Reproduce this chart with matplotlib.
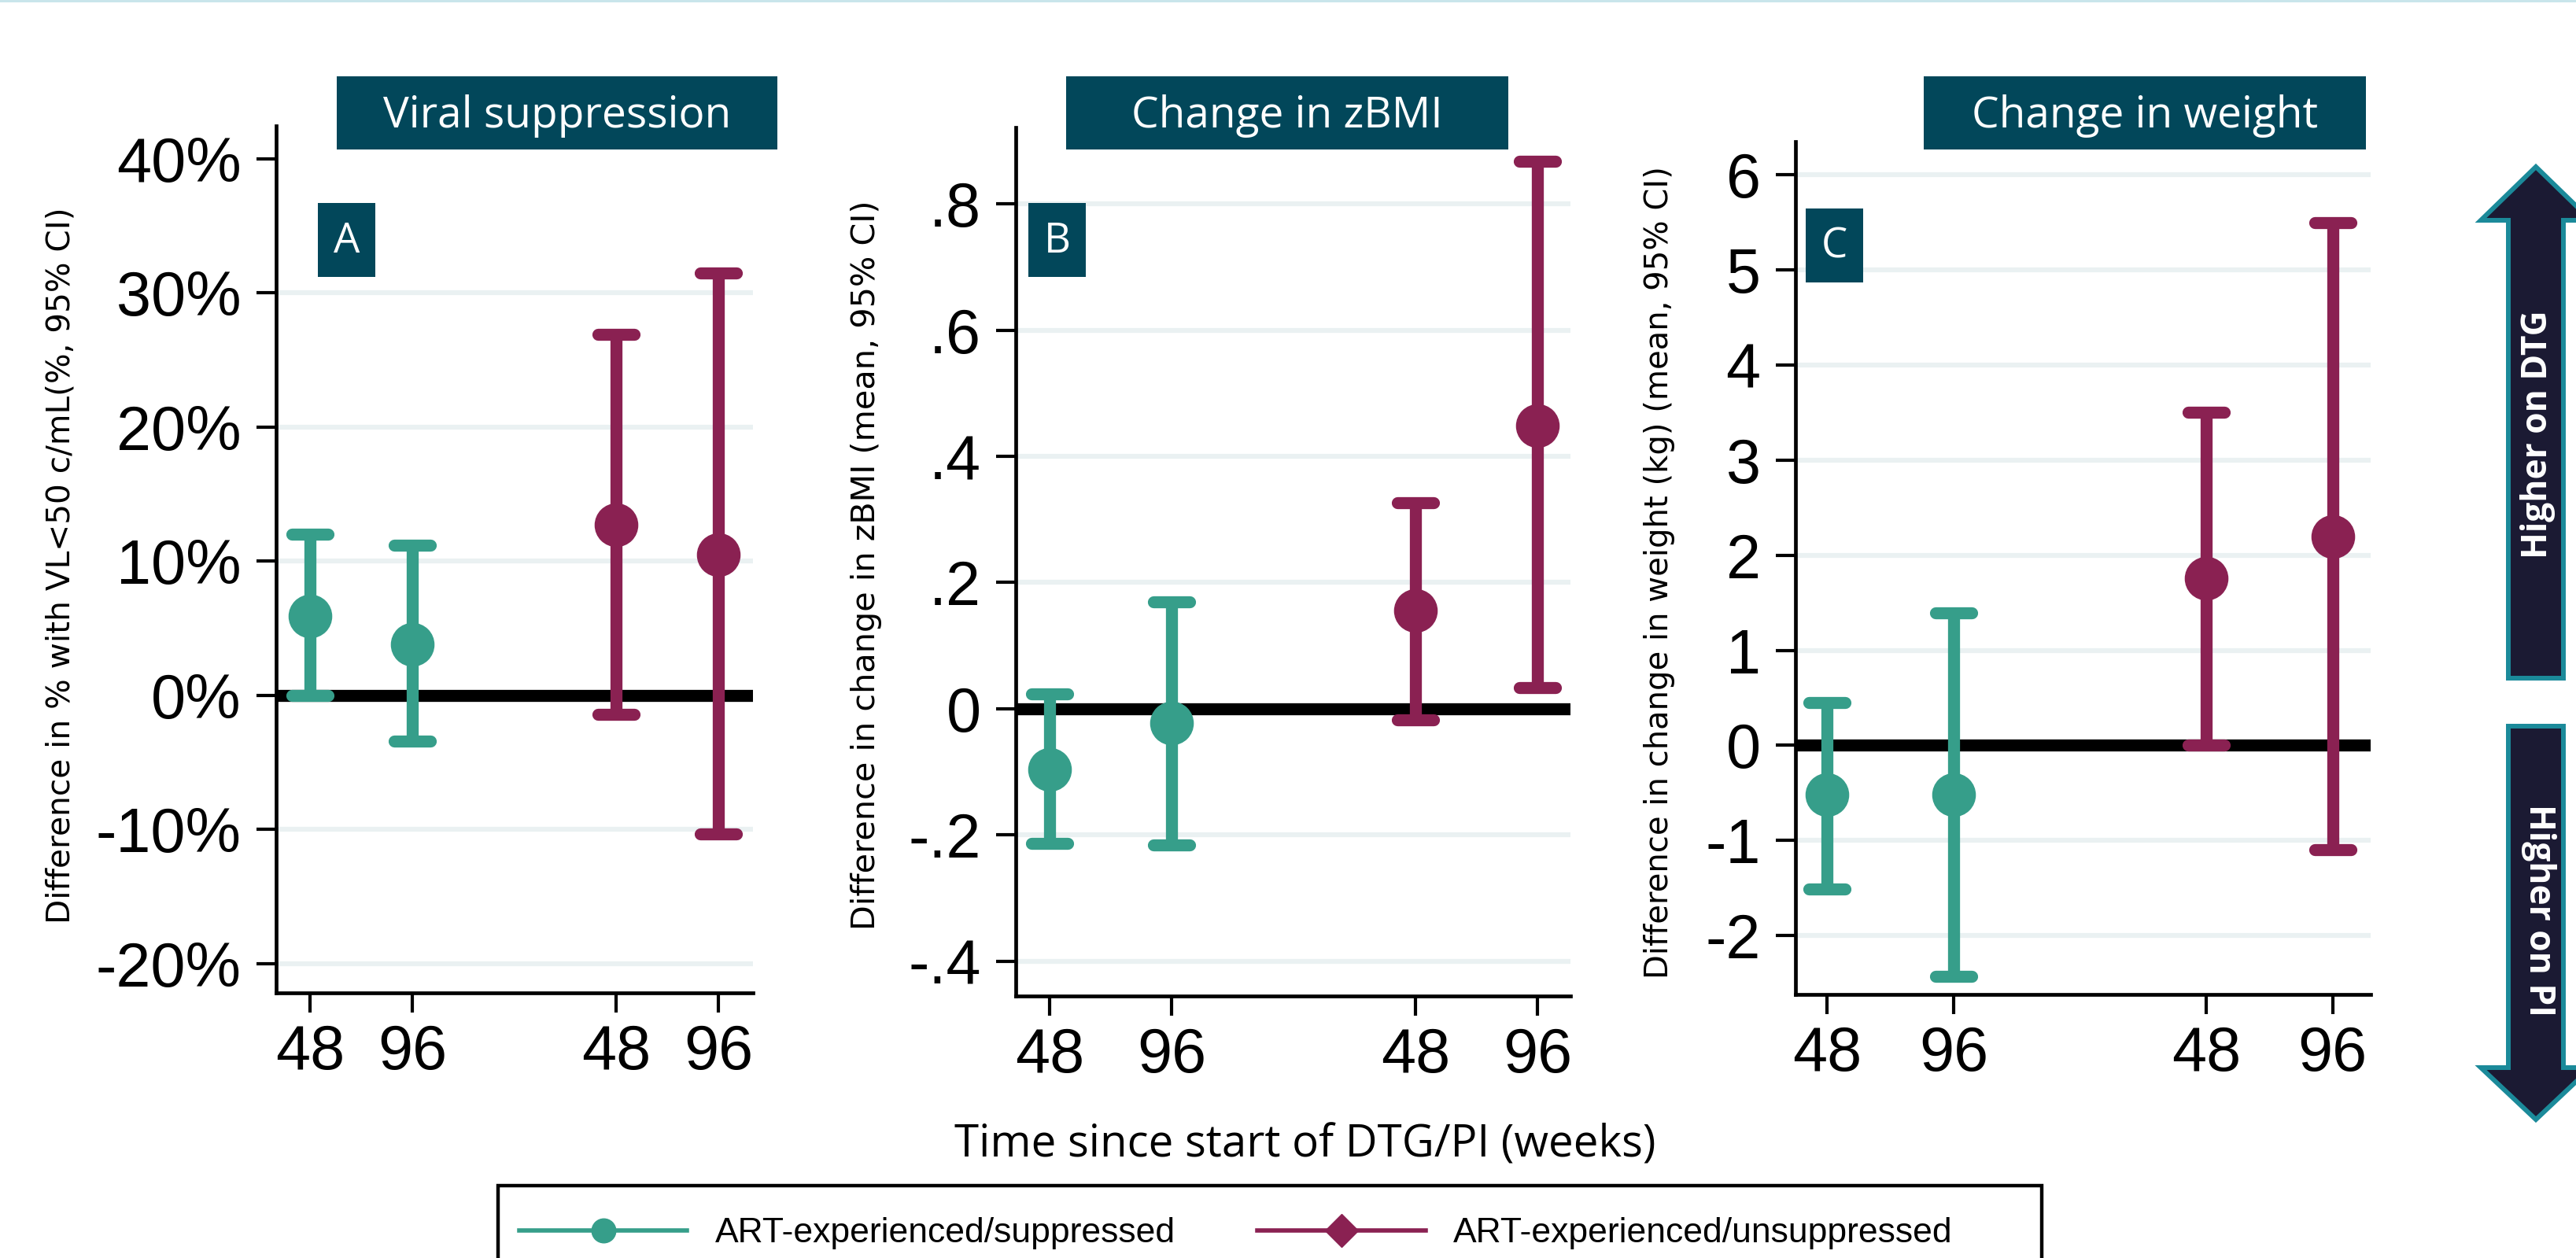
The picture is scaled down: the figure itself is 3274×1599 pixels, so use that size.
import matplotlib
matplotlib.use('Agg')
import matplotlib.pyplot as plt
from matplotlib.patches import Rectangle, Polygon
from matplotlib.lines import Line2D
from matplotlib.markers import MarkerStyle
from matplotlib.ticker import FixedLocator, FuncFormatter
import numpy as np

plt.rcParams['axes.unicode_minus'] = False

# ---------------- data ----------------
weeks = [48, 96]
groups = ['ART-experienced/suppressed', 'ART-experienced/unsuppressed']

# Panel A: viral suppression, difference in % with VL<50
vs_est_sup = [5.9, 3.8]
vs_lo_sup = [0.0, -3.4]
vs_hi_sup = [12.0, 11.2]
vs_est_uns = [12.7, 10.5]
vs_lo_uns = [-1.4, -10.3]
vs_hi_uns = [26.9, 31.5]

# Panel B: change in zBMI
bmi_est_sup = [-0.096, -0.023]
bmi_lo_sup = [-0.213, -0.216]
bmi_hi_sup = [0.023, 0.169]
bmi_est_uns = [0.156, 0.449]
bmi_lo_uns = [-0.018, 0.034]
bmi_hi_uns = [0.326, 0.867]

# Panel C: change in weight (kg)
wt_est_sup = [-0.52, -0.52]
wt_lo_sup = [-1.51, -2.43]
wt_hi_sup = [0.45, 1.39]
wt_est_uns = [1.76, 2.20]
wt_lo_uns = [0.0, -1.10]
wt_hi_uns = [3.50, 5.50]

panel_titles = ['Viral suppression', 'Change in zBMI', 'Change in weight']
panel_letters = ['A', 'B', 'C']
ylabels = ['Difference in % with VL<50 c/mL(%, 95% CI)',
           'Difference in change in zBMI (mean, 95% CI)',
           'Difference in change in weight (kg) (mean, 95% CI)']
yticks_A = [-20, -10, 0, 10, 20, 30, 40]
yticks_B = [-0.4, -0.2, 0, 0.2, 0.4, 0.6, 0.8]
yticks_C = [-2, -1, 0, 1, 2, 3, 4, 5, 6]
xlabel = 'Time since start of DTG/PI (weeks)'
arrow_up_text = 'Higher on DTG'
arrow_down_text = 'Higher on PI'

# ---------------- styles ----------------
W, H, DPI = 3274, 1599, 100
TEAL = '#369E8A'
PURPLE = '#8A2152'
BOX = '#02475A'
GRID = '#EAF1F2'
ARROW_FILL = '#1B1A33'
ARROW_EDGE = '#1B8A9A'

def fx(x):
    return x / W

def fy(y):
    return 1 - y / H

fig = plt.figure(figsize=(W / DPI, H / DPI), dpi=DPI)
fig.patch.set_facecolor('white')
renderer = fig.canvas.get_renderer()

def fit(t, target, along='w'):
    bb = t.get_window_extent(renderer)
    cur = bb.width if along == 'w' else bb.height
    t.set_fontsize(t.get_fontsize() * target / cur)

# axes rectangles in pixel coords: left, top, right, bottom
rects = [(351, 160, 957, 1262), (1291, 162, 1996, 1266), (2282, 180, 3013, 1264)]
ylims = [(-22.17, 42.44), (-0.455, 0.921), (-2.62, 6.35)]
xlims = [(0.667, 5.34), (0.72, 5.27), (0.75, 5.30)]
yticks_all = [yticks_A, yticks_B, yticks_C]

def fmt_A(v, p):
    return f'{v:g}%'

def fmt_B(v, p):
    s = f'{abs(v):g}'.lstrip('0')
    if s == '':
        return '0'
    return ('-' if v < 0 else '') + s

def fmt_C(v, p):
    return f'{v:g}'

fmts = [fmt_A, fmt_B, fmt_C]

data = [
    ((vs_est_sup, vs_lo_sup, vs_hi_sup), (vs_est_uns, vs_lo_uns, vs_hi_uns)),
    ((bmi_est_sup, bmi_lo_sup, bmi_hi_sup), (bmi_est_uns, bmi_lo_uns, bmi_hi_uns)),
    ((wt_est_sup, wt_lo_sup, wt_hi_sup), (wt_est_uns, wt_lo_uns, wt_hi_uns)),
]

# x slots: group g, time t -> 3*g + t + 1
def xpos(g):
    return [3 * g + i + 1 for i in range(len(weeks))]

tick_font = 'Liberation Sans'
colors = [TEAL, PURPLE]

for k in range(3):
    l, t, r, b = rects[k]
    ax = fig.add_axes([fx(l), fy(b), (r - l) / W, (b - t) / H])
    ax.set_xlim(*xlims[k])
    ax.set_ylim(*ylims[k])
    for s in ['top', 'right']:
        ax.spines[s].set_visible(False)
    for s in ['left', 'bottom']:
        ax.spines[s].set_linewidth(3.4)
        ax.spines[s].set_color('black')
    ax.set_facecolor('none')

    # gridlines
    for v in yticks_all[k]:
        if v == 0:
            continue
        if k == 0 and v == max(yticks_all[k]):
            continue
        ax.axhline(v, color=GRID, lw=4.5, zorder=0.5)
    ax.axhline(0, color='black', lw=11, zorder=1)

    for g in range(2):
        est, lo, hi = data[k][g]
        est = np.array(est)
        lo = np.array(lo)
        hi = np.array(hi)
        cont = ax.errorbar(xpos(g), est, yerr=[est - lo, hi - est], fmt='o',
                           color=colors[g], ms=39, elinewidth=11,
                           capsize=16.5, capthick=11, zorder=3)
        for cl in cont[1]:
            try:
                cl.set_marker(MarkerStyle('_', capstyle='round'))
            except Exception:
                pass

    xt = xpos(0) + xpos(1)
    ax.xaxis.set_major_locator(FixedLocator(xt))
    ax.set_xticklabels([str(w) for w in weeks] * 2)
    ax.yaxis.set_major_locator(FixedLocator(yticks_all[k]))
    ax.yaxis.set_major_formatter(FuncFormatter(fmts[k]))
    ax.tick_params(axis='both', length=18, width=3, color='black',
                   labelsize=57, labelcolor='black')
    ax.tick_params(axis='x', pad=10)
    ax.tick_params(axis='y', pad=14)
    for lab in ax.get_xticklabels() + ax.get_yticklabels():
        lab.set_fontfamily(tick_font)

# ---------------- title boxes ----------------
title_boxes = [(428, 97, 988, 190), (1355, 97, 1917, 190), (2445, 97, 3007, 190)]
letter_boxes = [(404, 258, 477, 352), (1307, 258, 1380, 352), (2295, 265, 2368, 359)]
title_size = None
for k in range(3):
    l, t, r, b = title_boxes[k]
    fig.patches.append(Rectangle((fx(l), fy(b)), (r - l) / W, (b - t) / H,
                                 transform=fig.transFigure, facecolor=BOX,
                                 edgecolor='none', zorder=5))
    tt = fig.text(fx((l + r) / 2), fy((t + b) / 2 + 4), panel_titles[k],
                  ha='center', va='center', color='white', family='Open Sans',
                  fontsize=40, zorder=6)
    if title_size is None:
        fit(tt, 441)
        title_size = tt.get_fontsize()
    else:
        tt.set_fontsize(title_size)

    l, t, r, b = letter_boxes[k]
    fig.patches.append(Rectangle((fx(l), fy(b)), (r - l) / W, (b - t) / H,
                                 transform=fig.transFigure, facecolor=BOX,
                                 edgecolor='none', zorder=5))
    fig.text(fx((l + r) / 2), fy((t + b) / 2 + 2), panel_letters[k],
             ha='center', va='center', color='white', family='Open Sans',
             fontsize=38, zorder=6)

# ---------------- y labels ----------------
ylabel_pos = [(78, 719, 912), (1101, 718, 927), (2109, 728, 1031)]
for k in range(3):
    x, y, length = ylabel_pos[k]
    tl = fig.text(fx(x), fy(y), ylabels[k], rotation=90, ha='center',
                  va='center', family='DejaVu Sans', fontsize=26, color='black')
    fit(tl, length, along='h')

# ---------------- x label ----------------
xl = fig.text(fx(1659), fy(1456), xlabel, ha='center', va='center',
              family='Open Sans', fontsize=37, color='black')
fit(xl, 890)

# ---------------- legend ----------------
handles = [Line2D([], [], color=TEAL, lw=4, marker='o', ms=22),
           Line2D([], [], color=PURPLE, lw=4, marker='D', ms=21)]
fig.legend(handles, groups, loc='center left',
           bbox_to_anchor=(fx(660), fy(1568)), frameon=False, ncol=2,
           handlelength=4.8, handletextpad=0.8, columnspacing=2.35,
           borderpad=0, borderaxespad=0,
           prop={'family': 'Liberation Sans', 'size': 32})
fig.patches.append(Rectangle((fx(633), fy(1660)), (2595 - 633) / W, (1660 - 1507) / H,
                             transform=fig.transFigure, fill=False,
                             edgecolor='black', lw=3.2, zorder=4))

# ---------------- right arrows ----------------
up = [(3223, 212), (3293, 280), (3258, 280), (3258, 862), (3188, 862),
      (3188, 280), (3153, 280)]
down = [(3188, 923), (3258, 923), (3258, 1357), (3293, 1357), (3223, 1423),
        (3153, 1357), (3188, 1357)]
for pts in (up, down):
    fig.patches.append(Polygon([(fx(a), fy(b)) for a, b in pts], closed=True,
                               transform=fig.transFigure, facecolor=ARROW_FILL,
                               edgecolor=ARROW_EDGE, lw=4.3, zorder=5))
tu = fig.text(fx(3226), fy(552), arrow_up_text, rotation=90, ha='center',
              va='center', color='white', family='Open Sans', weight='bold',
              fontsize=28, zorder=6)
fit(tu, 315, along='h')
td = fig.text(fx(3226), fy(1157), arrow_down_text, rotation=270, ha='center',
              va='center', color='white', family='Open Sans', weight='bold',
              fontsize=tu.get_fontsize(), zorder=6)

# top thin line
fig.patches.append(Rectangle((0, fy(3)), 1, 3 / H, transform=fig.transFigure,
                             facecolor='#C9E5EB', edgecolor='none', zorder=1))

fig.savefig('out.png', dpi=DPI, facecolor='white')
